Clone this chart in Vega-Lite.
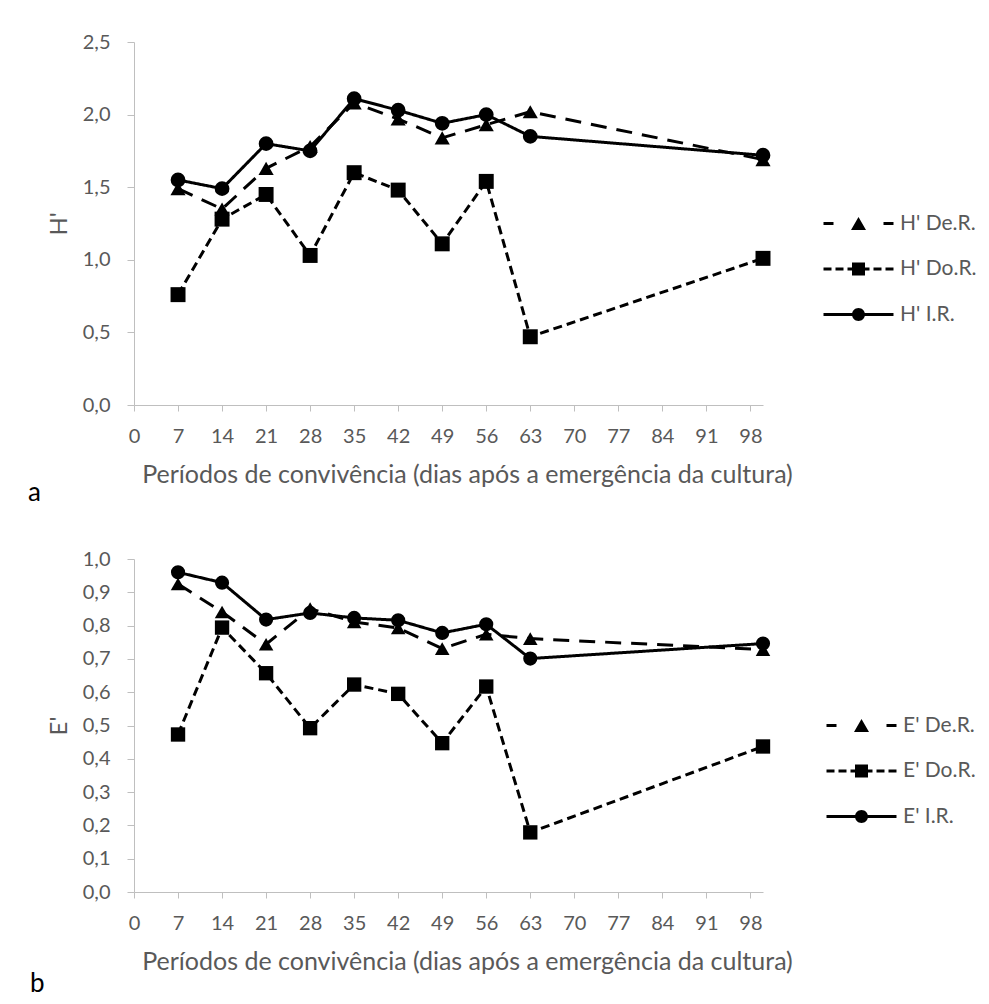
{
  "$schema": "https://vega.github.io/schema/vega-lite/v6.json",
  "background": "white",
  "padding": {"left": 28, "top": 32, "right": 5, "bottom": 5},
  "bounds": "flush",
  "spacing": 154,
  "datasets": {
    "h": [
      {"dia": 7, "serie": "H' De.R.", "valor": 1.49},
      {"dia": 14, "serie": "H' De.R.", "valor": 1.35},
      {"dia": 21, "serie": "H' De.R.", "valor": 1.63},
      {"dia": 28, "serie": "H' De.R.", "valor": 1.78},
      {"dia": 35, "serie": "H' De.R.", "valor": 2.08},
      {"dia": 42, "serie": "H' De.R.", "valor": 1.97},
      {"dia": 49, "serie": "H' De.R.", "valor": 1.84},
      {"dia": 56, "serie": "H' De.R.", "valor": 1.93},
      {"dia": 63, "serie": "H' De.R.", "valor": 2.02},
      {"dia": 100, "serie": "H' De.R.", "valor": 1.69},
      {"dia": 7, "serie": "H' Do.R.", "valor": 0.76},
      {"dia": 14, "serie": "H' Do.R.", "valor": 1.28},
      {"dia": 21, "serie": "H' Do.R.", "valor": 1.45},
      {"dia": 28, "serie": "H' Do.R.", "valor": 1.03},
      {"dia": 35, "serie": "H' Do.R.", "valor": 1.6},
      {"dia": 42, "serie": "H' Do.R.", "valor": 1.48},
      {"dia": 49, "serie": "H' Do.R.", "valor": 1.11},
      {"dia": 56, "serie": "H' Do.R.", "valor": 1.54},
      {"dia": 63, "serie": "H' Do.R.", "valor": 0.47},
      {"dia": 100, "serie": "H' Do.R.", "valor": 1.01},
      {"dia": 7, "serie": "H' I.R.", "valor": 1.55},
      {"dia": 14, "serie": "H' I.R.", "valor": 1.49},
      {"dia": 21, "serie": "H' I.R.", "valor": 1.8},
      {"dia": 28, "serie": "H' I.R.", "valor": 1.75},
      {"dia": 35, "serie": "H' I.R.", "valor": 2.11},
      {"dia": 42, "serie": "H' I.R.", "valor": 2.03},
      {"dia": 49, "serie": "H' I.R.", "valor": 1.94},
      {"dia": 56, "serie": "H' I.R.", "valor": 2.0},
      {"dia": 63, "serie": "H' I.R.", "valor": 1.85},
      {"dia": 100, "serie": "H' I.R.", "valor": 1.72}
    ],
    "e": [
      {"dia": 7, "serie": "E' De.R.", "valor": 0.925},
      {"dia": 14, "serie": "E' De.R.", "valor": 0.841},
      {"dia": 21, "serie": "E' De.R.", "valor": 0.744},
      {"dia": 28, "serie": "E' De.R.", "valor": 0.851},
      {"dia": 35, "serie": "E' De.R.", "valor": 0.811},
      {"dia": 42, "serie": "E' De.R.", "valor": 0.793},
      {"dia": 49, "serie": "E' De.R.", "valor": 0.731},
      {"dia": 56, "serie": "E' De.R.", "valor": 0.774},
      {"dia": 63, "serie": "E' De.R.", "valor": 0.761},
      {"dia": 100, "serie": "E' De.R.", "valor": 0.728},
      {"dia": 7, "serie": "E' Do.R.", "valor": 0.473},
      {"dia": 14, "serie": "E' Do.R.", "valor": 0.794},
      {"dia": 21, "serie": "E' Do.R.", "valor": 0.657},
      {"dia": 28, "serie": "E' Do.R.", "valor": 0.492},
      {"dia": 35, "serie": "E' Do.R.", "valor": 0.623},
      {"dia": 42, "serie": "E' Do.R.", "valor": 0.595},
      {"dia": 49, "serie": "E' Do.R.", "valor": 0.447},
      {"dia": 56, "serie": "E' Do.R.", "valor": 0.617},
      {"dia": 63, "serie": "E' Do.R.", "valor": 0.179},
      {"dia": 100, "serie": "E' Do.R.", "valor": 0.437},
      {"dia": 7, "serie": "E' I.R.", "valor": 0.96},
      {"dia": 14, "serie": "E' I.R.", "valor": 0.929},
      {"dia": 21, "serie": "E' I.R.", "valor": 0.818},
      {"dia": 28, "serie": "E' I.R.", "valor": 0.838},
      {"dia": 35, "serie": "E' I.R.", "valor": 0.823},
      {"dia": 42, "serie": "E' I.R.", "valor": 0.816},
      {"dia": 49, "serie": "E' I.R.", "valor": 0.778},
      {"dia": 56, "serie": "E' I.R.", "valor": 0.804},
      {"dia": 63, "serie": "E' I.R.", "valor": 0.701},
      {"dia": 100, "serie": "E' I.R.", "valor": 0.746}
    ]
  },
  "vconcat": [
    {
      "width": 629,
      "height": 363,
      "title": {"text": "a", "orient": "bottom", "anchor": "start", "frame": "group", "dx": -106, "dy": -11, "offset": 4, "fontSize": 26, "font": "Lato", "fontWeight": "normal", "color": "#000000"},
      "data": {"name": "h"},
      "encoding": {
        "x": {"field": "dia", "type": "quantitative", "scale": {"domain": [0, 100], "nice": false, "zero": false},
          "axis": {"values": [0, 7, 14, 21, 28, 35, 42, 49, 56, 63, 70, 77, 84, 91, 98], "title": "Períodos de convivência (dias após a emergência da cultura)"}},
        "y": {"field": "valor", "type": "quantitative", "scale": {"domain": [0, 2.5], "nice": false},
          "axis": {"values": [0, 0.5, 1, 1.5, 2, 2.5], "title": "H'", "labelExpr": "replace(format(datum.value, '.1f'), '.', ',')"}}
      },
      "layer": [
        {
          "mark": {"type": "line", "color": "#000000", "strokeWidth": 3, "strokeJoin": "round"},
          "encoding": {
            "strokeDash": {"field": "serie", "type": "nominal", "scale": {"domain": ["H' De.R.", "H' Do.R.", "H' I.R."], "range": [[16, 10], [9, 5], [1, 0]]}, "legend": null}
          }
        },
        {
          "mark": {"type": "point", "filled": true, "color": "#000000", "opacity": 1},
          "encoding": {
            "shape": {"field": "serie", "type": "nominal", "scale": {"domain": ["H' De.R.", "H' Do.R.", "H' I.R."], "range": ["triangle-up", "square", "circle"]}, "legend": null},
            "size": {"field": "serie", "type": "nominal", "scale": {"domain": ["H' De.R.", "H' Do.R.", "H' I.R."], "range": [230, 200, 180]}, "legend": null}
          }
        },
        {
          "mark": {"type": "point", "filled": true, "color": "#000000", "opacity": 0},
          "encoding": {
            "shape": {"field": "serie", "type": "nominal",
              "scale": {"domain": ["H' De.R.", "H' Do.R.", "H' I.R."], "range": [
                "M-5.833,-0.25H-4.167V0.25H-5.833ZM4.167,-0.25H5.833V0.25H4.167ZM0,-1.083L1.25,1.083L-1.25,1.083Z",
                "M-5.833,-0.25H-4.5V0.25H-5.833ZM-3.833,-0.25H-2.5V0.25H-3.833ZM-1.833,-0.25H1.833V0.25H-1.833ZM2.5,-0.25H3.833V0.25H2.5ZM4.5,-0.25H5.833V0.25H4.5ZM-1.083,-1.083H1.083V1.083H-1.083Z",
                "M-5.833,-0.25H5.833V0.25H-5.833ZM-1.083,0A1.083,1.083 0 1,1 1.083,0A1.083,1.083 0 1,1 -1.083,0Z"
              ]},
              "legend": {"orient": "none", "legendX": 714, "legendY": 171, "title": null, "padding": 0,
                "symbolSize": 144, "symbolStrokeWidth": 0, "symbolFillColor": "#000000",
                "labelOffset": 31, "labelFontSize": 21, "labelFont": "Lato", "labelColor": "#595959", "rowPadding": 23.5,
                "encode": {"symbols": {"update": {"opacity": {"value": 1}, "fill": {"value": "#000000"}}}}}
            }
          }
        }
      ],
      "resolve": {"scale": {"shape": "independent"}, "legend": {"shape": "independent"}}
    },
    {
      "width": 629,
      "height": 333,
      "title": {"text": "b", "orient": "bottom", "anchor": "start", "frame": "group", "dx": -104, "dy": -7, "offset": 4, "fontSize": 26, "font": "Lato", "fontWeight": "normal", "color": "#000000"},
      "data": {"name": "e"},
      "encoding": {
        "x": {"field": "dia", "type": "quantitative", "scale": {"domain": [0, 100], "nice": false, "zero": false},
          "axis": {"values": [0, 7, 14, 21, 28, 35, 42, 49, 56, 63, 70, 77, 84, 91, 98], "title": "Períodos de convivência (dias após a emergência da cultura)"}},
        "y": {"field": "valor", "type": "quantitative", "scale": {"domain": [0, 1], "nice": false},
          "axis": {"values": [0, 0.1, 0.2, 0.3, 0.4, 0.5, 0.6, 0.7, 0.8, 0.9, 1], "title": "E'", "labelExpr": "replace(format(datum.value, '.1f'), '.', ',')"}}
      },
      "layer": [
        {
          "mark": {"type": "line", "color": "#000000", "strokeWidth": 3, "strokeJoin": "round"},
          "encoding": {
            "strokeDash": {"field": "serie", "type": "nominal", "scale": {"domain": ["E' De.R.", "E' Do.R.", "E' I.R."], "range": [[16, 10], [9, 5], [1, 0]]}, "legend": null}
          }
        },
        {
          "mark": {"type": "point", "filled": true, "color": "#000000", "opacity": 1},
          "encoding": {
            "shape": {"field": "serie", "type": "nominal", "scale": {"domain": ["E' De.R.", "E' Do.R.", "E' I.R."], "range": ["triangle-up", "square", "circle"]}, "legend": null},
            "size": {"field": "serie", "type": "nominal", "scale": {"domain": ["E' De.R.", "E' Do.R.", "E' I.R."], "range": [230, 200, 180]}, "legend": null}
          }
        },
        {
          "mark": {"type": "point", "filled": true, "color": "#000000", "opacity": 0},
          "encoding": {
            "shape": {"field": "serie", "type": "nominal",
              "scale": {"domain": ["E' De.R.", "E' Do.R.", "E' I.R."], "range": [
                "M-5.833,-0.25H-4.167V0.25H-5.833ZM4.167,-0.25H5.833V0.25H4.167ZM0,-1.083L1.25,1.083L-1.25,1.083Z",
                "M-5.833,-0.25H-4.5V0.25H-5.833ZM-3.833,-0.25H-2.5V0.25H-3.833ZM-1.833,-0.25H1.833V0.25H-1.833ZM2.5,-0.25H3.833V0.25H2.5ZM4.5,-0.25H5.833V0.25H4.5ZM-1.083,-1.083H1.083V1.083H-1.083Z",
                "M-5.833,-0.25H5.833V0.25H-5.833ZM-1.083,0A1.083,1.083 0 1,1 1.083,0A1.083,1.083 0 1,1 -1.083,0Z"
              ]},
              "legend": {"orient": "none", "legendX": 717, "legendY": 156, "title": null, "padding": 0,
                "symbolSize": 144, "symbolStrokeWidth": 0, "symbolFillColor": "#000000",
                "labelOffset": 31, "labelFontSize": 21, "labelFont": "Lato", "labelColor": "#595959", "rowPadding": 23.5,
                "encode": {"symbols": {"update": {"opacity": {"value": 1}, "fill": {"value": "#000000"}}}}}
            }
          }
        }
      ],
      "resolve": {"scale": {"shape": "independent"}, "legend": {"shape": "independent"}}
    }
  ],
  "config": {
    "font": "Lato",
    "view": {"stroke": null},
    "axis": {"grid": false, "domainColor": "#bfbfbf", "tickColor": "#bfbfbf", "labelColor": "#595959", "titleColor": "#595959",
      "labelFont": "Lato", "titleFont": "Lato", "labelFontSize": 20, "titleFontSize": 24, "titleFontWeight": "normal"},
    "axisX": {"tickSize": 6, "labelPadding": 15, "titlePadding": 16, "titleFontSize": 25, "titleX": 333, "titleAlign": "center", "labelFlush": false, "labelOverlap": false},
    "axisY": {"tickSize": 7, "labelPadding": 17, "titlePadding": 11}
  }
}
